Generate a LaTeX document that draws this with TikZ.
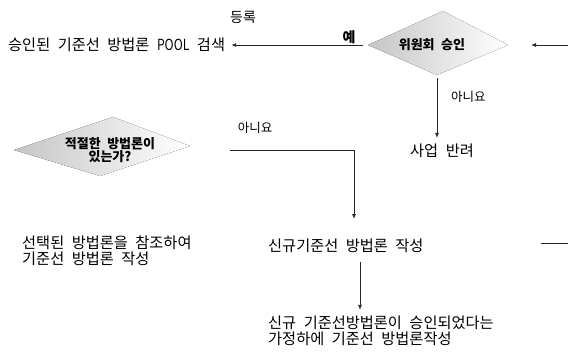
\documentclass[tikz,border=0pt]{standalone}
\usepackage{fontspec}
\usepackage{graphicx}
\setmainfont{Noto Sans CJK KR}[WordSpace=2.2]
\usetikzlibrary{arrows.meta}
\tikzset{
  txt/.style={inner sep=0pt, anchor=west, font=\fontsize{15.25}{16}\selectfont, align=left},
  small/.style={inner sep=0pt, font=\fontsize{12.5}{14}\selectfont},
  diafill/.style={left color=gray!45, middle color=gray!50, right color=white, draw=none},
  diatxt/.style={inner sep=0pt, font=\bfseries\fontsize{13}{13.5}\selectfont, align=center},
  conn/.style={draw=black!85, line width=0.8pt},
  arr/.style={conn, -{Latex[length=5pt,width=4pt]}}
}
\begin{document}
\begin{tikzpicture}[x=1pt,y=-1pt]
\useasboundingbox (0,0) rectangle (568,354);
% diamond outlines
\coordinate (d1L) at (368,45);
\coordinate (d1T) at (443,11);
\coordinate (d1R) at (508,45);
\coordinate (d1B) at (437,75);
\fill[diafill] (d1L) -- (d1T) -- (d1R) -- (d1B) -- cycle;
\coordinate (d2L) at (14,150);
\coordinate (d2T) at (113,117);
\coordinate (d2R) at (190,146);
\coordinate (d2B) at (100,176);
\fill[diafill] (d2L) -- (d2T) -- (d2R) -- (d2B) -- cycle;
% nodes
\node[small, font=\fontsize{14}{15}\selectfont] (reg) at (243,17) {등록};
\node[txt] (pool) at (8,45) {승인된 기준선 방법론 \scalebox{0.8}[1]{POOL} 검색};
\node[diatxt] (d1) at (432,45) {위원회 승인};
\node[small, font=\bfseries\fontsize{14}{15}\selectfont] (yes) at (349,37) {예};
\node[small, anchor=west] (no1) at (451,97) {아니요};
\node[txt] (rej) at (410,151) {사업 반려};
\node[diatxt] (d2) at (110,150) {적절한 방법론이\\있는가?};
\node[small] (no2) at (255,128) {아니요};
\node[txt] (sel) at (22,251) {선택된 방법론을 참조하여\\기준선 방법론 작성};
\node[txt] (new) at (268,246) {신규기준선 방법론 작성};
\node[txt] (assume) at (268,331) {신규 기준선방법론이 승인되었다는\\가정하에 기준선 방법론작성};
% coordinates
\coordinate (inR) at (568,45);
\coordinate (inEnd) at (531,45);
\coordinate (bstart) at (230,150);
\coordinate (bend) at (354,150);
\coordinate (newtop) at (354,219);
\coordinate (outA) at (541,243);
\coordinate (outB) at (568,243);
% connectors
\draw[arr, shorten <=5pt, shorten >=6pt] (d1L) -- (pool.east);
\draw[arr] (inR) -- (inEnd);
\draw[arr, shorten <=3pt, shorten >=6pt] (d1B) -- (d1B |- rej.north);
\draw[conn] (bstart) -- (bend);
\draw[arr] (bend) -- (newtop);
\draw[arr, shorten <=9pt, shorten >=6pt] (new.south -| 360,0) -- (assume.north -| 360,0);
\draw[conn] (outA) -- (outB);
\end{tikzpicture}
\end{document}
